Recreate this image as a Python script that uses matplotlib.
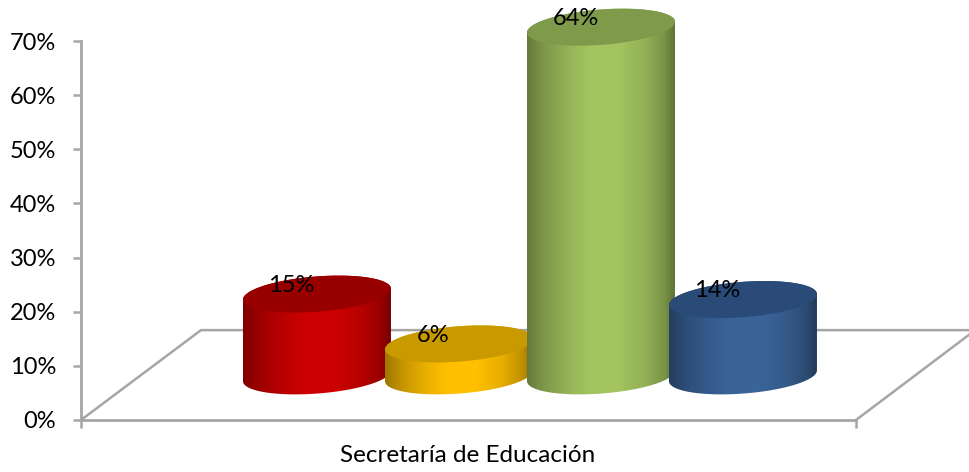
import matplotlib
matplotlib.use('Agg')
import matplotlib.pyplot as plt
import numpy as np
from matplotlib.colors import to_rgb
from matplotlib.patches import PathPatch
from matplotlib.path import Path

plt.rcParams['font.family'] = ['Lato', 'DejaVu Sans']

# data
category = 'Secretaría de Educación'
values = [15.1, 5.9, 64.4, 14.1]
labels = ['15%', '6%', '64%', '14%']
body_colors = ['#CC0000', '#FFC000', '#A3C45F', '#3A6499']
top_colors = ['#980000', '#C99A00', '#7F9A4A', '#2A4A78']
yticks = [0, 10, 20, 30, 40, 50, 60, 70]

GRAY = '#A6A6A6'
# floor and cylinder shape
base_y = 8.15
half_w = 0.521
half_h = 3.27
skew = 1.0
floor_back = 16.6
floor_dx = 0.845

fig = plt.figure(figsize=(9.69, 4.72), dpi=100)
ax = fig.add_axes([81 / 969, 52 / 472, 775 / 969, 379 / 472])


def ellipse(cx, cy, t):
    return cx + half_w * np.cos(t), cy + half_h * np.sin(t) + skew * np.cos(t)


shade_x = [0, 0.12, 0.3, 0.42, 0.62, 0.8, 0.93, 1]
shade_k = [0.62, 0.78, 0.93, 1.0, 1.0, 0.9, 0.75, 0.58]
xs = np.linspace(0, 1, 200)
shade = np.interp(xs, shade_x, shade_k)

for i, v in enumerate(values):
    y_top = base_y + v
    # side of the cylinder, shaded left to right
    t1 = np.linspace(np.pi, 2 * np.pi, 60)
    t2 = np.linspace(0, np.pi, 60)
    bx, by = ellipse(i, base_y, t1)
    tx, ty = ellipse(i, y_top, t2)
    pts = np.vstack([np.column_stack([bx, by]), np.column_stack([tx, ty])])
    side = PathPatch(Path(pts), fc='none', ec='none', zorder=2 + i, clip_on=False)
    ax.add_patch(side)
    img = np.outer(shade, to_rgb(body_colors[i])).reshape(1, -1, 3)
    im = ax.imshow(img, extent=[i - half_w, i + half_w, base_y - 5, y_top + 5],
                   aspect='auto', zorder=2 + i, interpolation='bilinear')
    im.set_clip_box(fig.bbox)
    im.set_clip_path(side)
    # top face
    ex, ey = ellipse(i, y_top, np.linspace(0, 2 * np.pi, 120))
    ax.fill(ex, ey, color=top_colors[i], lw=0, zorder=2 + i, clip_on=False)
    ax.text(i - 0.18, y_top + 1.6, labels[i], ha='center', va='center',
            fontsize=17, color='black', zorder=10)

ax.set_xlim(-1.662, 3.796)
ax.set_ylim(0, 70)

# floor
ax.plot([-1.662, -1.662 + floor_dx, 4.59], [0, floor_back, floor_back],
        color=GRAY, lw=1.8, clip_on=False, zorder=1)
ax.plot([3.796, 4.59], [0, 15.7], color=GRAY, lw=1.8, clip_on=False, zorder=1)

for s in ['top', 'right']:
    ax.spines[s].set_visible(False)
for s in ['left', 'bottom']:
    ax.spines[s].set_color(GRAY)
    ax.spines[s].set_linewidth(2.0)
ax.set_yticks(yticks)
ax.set_yticklabels([str(t) + '%' for t in yticks])
ax.set_xticks([-1.662, 3.796])
ax.set_xticklabels([])
ax.tick_params(axis='both', color=GRAY, width=1.8, length=6, labelsize=17, pad=5)
ax.tick_params(axis='y', pad=12)
ax.patch.set_visible(False)

fig.text(468 / 969, 1 - 455 / 472, category, ha='center', va='center', fontsize=17.5)

fig.savefig('out.png', dpi=100)
